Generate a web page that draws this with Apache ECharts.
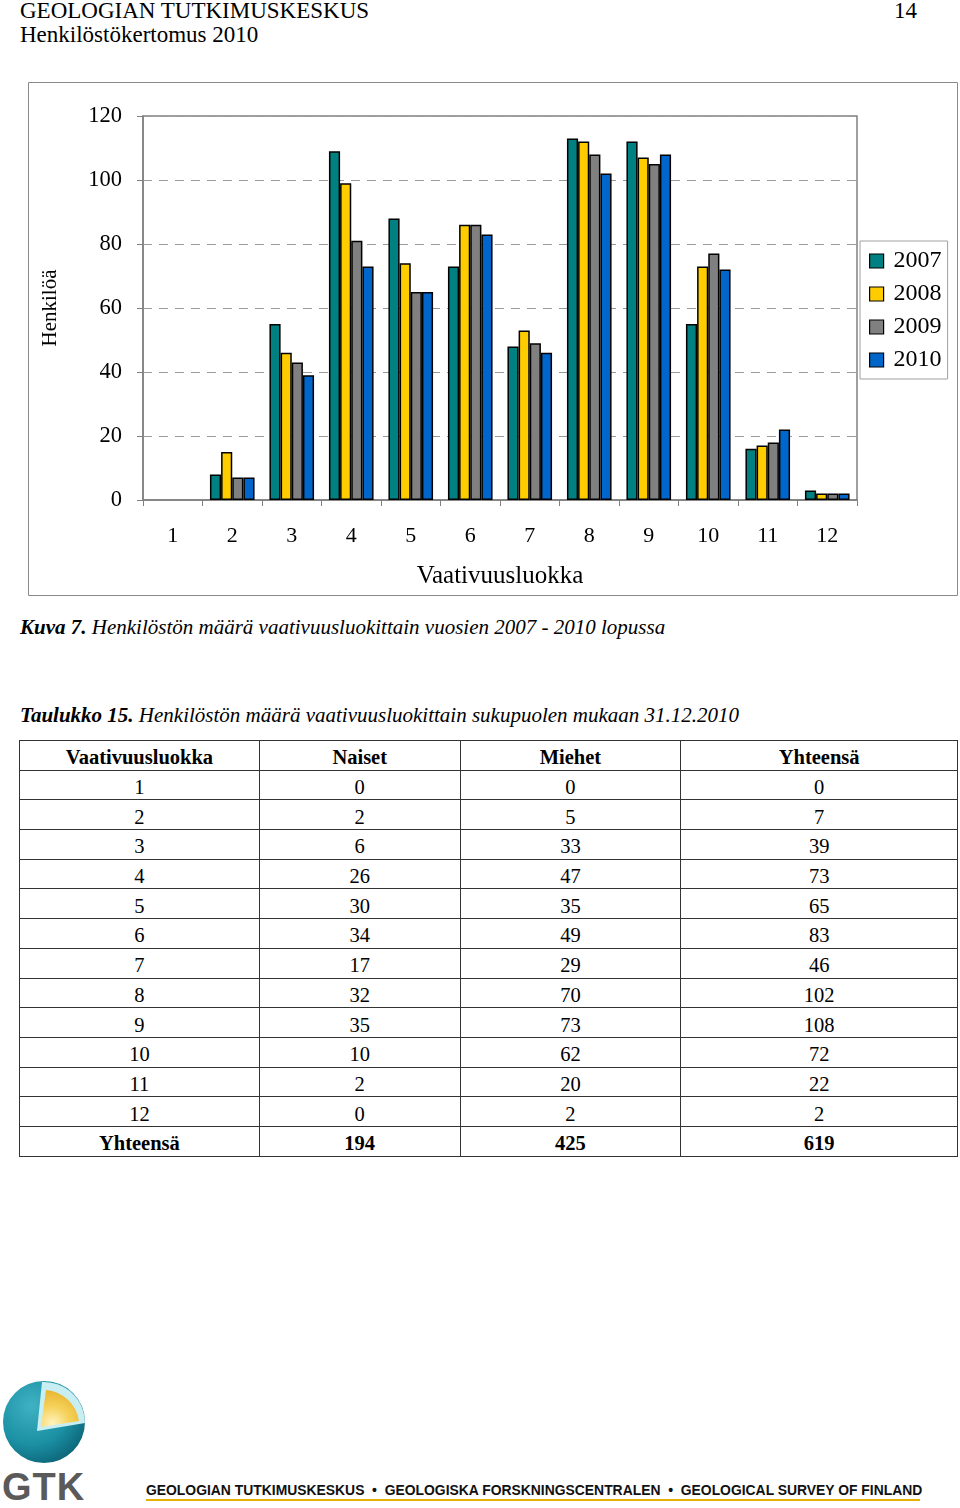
<!DOCTYPE html>
<html>
<head>
<meta charset="utf-8">
<script src="https://cdn.jsdelivr.net/npm/echarts@6/dist/echarts.min.js"></script>
<style>
  html, body { margin: 0; padding: 0; background: #fff; }
  #page { position: relative; width: 960px; height: 1508px; overflow: hidden; font-family: "Liberation Serif", serif; color: #000; }
  .abs { position: absolute; white-space: nowrap; }
  #chart { position: absolute; left: 0; top: 0; width: 960px; height: 610px; }
  table { position: absolute; left: 19px; top: 740px; width: 939px; border-collapse: collapse; font-family: "Liberation Serif", serif; font-size: 20.5px; }
  td, th { border: 1px solid #333; height: 29.7px; padding: 4px 0 0 0; box-sizing: border-box; text-align: center; line-height: 20px; }
  th { font-weight: bold; }
  tr.tot td { font-weight: bold; }
  table { border: 1.5px solid #222; }
</style>
</head>
<body>
<div id="page">
  <div class="abs" style="left:20px; top:-2px; font-size:23px;">GEOLOGIAN TUTKIMUSKESKUS</div>
  <div class="abs" style="left:894px; top:-2px; font-size:23px;">14</div>
  <div class="abs" style="left:20px; top:22px; font-size:23px;">Henkilöstökertomus 2010</div>
  <div id="chart"></div>
  <div class="abs" style="left:20px; top:615px; font-size:21px; font-style:italic;"><b>Kuva 7.</b> Henkilöstön määrä vaativuusluokittain vuosien 2007 - 2010 lopussa</div>
  <div class="abs" style="left:20px; top:703px; font-size:21px; font-style:italic;"><b>Taulukko 15.</b> Henkilöstön määrä vaativuusluokittain sukupuolen mukaan 31.12.2010</div>
  <table id="tbl"></table>
  <svg class="abs" style="left:0; top:1376px;" width="100" height="95" viewBox="0 0 100 95">
    <defs>
      <radialGradient id="gg" cx="0.35" cy="0.3" r="0.8">
        <stop offset="0" stop-color="#3fb3c3"/>
        <stop offset="0.6" stop-color="#1b8fa3"/>
        <stop offset="1" stop-color="#0b5f72"/>
      </radialGradient>
      <radialGradient id="yg" cx="0.3" cy="0.9" r="0.9">
        <stop offset="0" stop-color="#fff4c0"/>
        <stop offset="0.5" stop-color="#f6d25a"/>
        <stop offset="1" stop-color="#e9b531"/>
      </radialGradient>
    </defs>
    <circle cx="44" cy="46" r="41" fill="url(#gg)"/>
    <path d="M42 6 L37 55 L85 47 A41 41 0 0 0 42 6 Z" fill="#c9eef2"/>
    <path d="M46 14 L41 51 L79 45 A36 36 0 0 0 46 14 Z" fill="url(#yg)"/>
  </svg>
  <div class="abs" style="left:2px; top:1466px; font-family:'Liberation Sans',sans-serif; font-weight:bold; font-size:38px; color:#5a5a5a; letter-spacing:1px;">GTK</div>
  <div class="abs" id="foot" style="left:146px; top:1482px; font-family:'Liberation Sans',sans-serif; font-weight:bold; font-size:13.9px; color:#111;">GEOLOGIAN TUTKIMUSKESKUS &nbsp;•&nbsp; GEOLOGISKA FORSKNINGSCENTRALEN &nbsp;•&nbsp; GEOLOGICAL SURVEY OF FINLAND</div>
  <div class="abs" style="left:146px; top:1499px; width:774px; height:2px; background:#e8b000;"></div>
</div>
<script>
// ---- chart data ----
const categories = ['1','2','3','4','5','6','7','8','9','10','11','12'];
const years = ['2007','2008','2009','2010'];
const values2007 = [0, 8, 55, 109, 88, 73, 48, 113, 112, 55, 16, 3];
const values2008 = [0, 15, 46, 99, 74, 86, 53, 112, 107, 73, 17, 2];
const values2009 = [0, 7, 43, 81, 65, 86, 49, 108, 105, 77, 18, 2];
const values2010 = [0, 7, 39, 73, 65, 83, 46, 102, 108, 72, 22, 2];
const yTicks = [0, 20, 40, 60, 80, 100, 120];

// ---- table data ----
const tableHeader = ['Vaativuusluokka', 'Naiset', 'Miehet', 'Yhteensä'];
const tableClasses = ['1','2','3','4','5','6','7','8','9','10','11','12'];
const naiset = [0, 2, 6, 26, 30, 34, 17, 32, 35, 10, 2, 0];
const miehet = [0, 5, 33, 47, 35, 49, 29, 70, 73, 62, 20, 2];
const yhteensa = [0, 7, 39, 73, 65, 83, 46, 102, 108, 72, 22, 2];
const totalRow = ['Yhteensä', 194, 425, 619];

// build table
(function () {
  const t = document.getElementById('tbl');
  const widths = [240, 201, 221, 277];
  let html = '<tr>' + tableHeader.map((h, i) => '<th style="width:' + widths[i] + 'px">' + h + '</th>').join('') + '</tr>';
  for (let i = 0; i < tableClasses.length; i++) {
    html += '<tr><td>' + tableClasses[i] + '</td><td>' + naiset[i] + '</td><td>' + miehet[i] + '</td><td>' + yhteensa[i] + '</td></tr>';
  }
  html += '<tr class="tot">' + totalRow.map(v => '<td>' + v + '</td>').join('') + '</tr>';
  t.innerHTML = html;
})();

const colors = ['#008080', '#FFCC00', '#808080', '#0066CC'];
const seriesValues = [values2007, values2008, values2009, values2010];
const font = 'Liberation Serif';

const chart = echarts.init(document.getElementById('chart'), null, { renderer: 'canvas' });
chart.setOption({
  animation: false,
  textStyle: { fontFamily: font, color: '#000' },
  graphic: [{
    type: 'rect',
    shape: { x: 28.5, y: 82.5, width: 929, height: 513 },
    style: { fill: 'none', stroke: '#8a8a8a', lineWidth: 1 },
    silent: true
  }],
  grid: {
    left: 143, top: 116, width: 714, height: 384,
    show: true, borderColor: '#808080', borderWidth: 1.5, backgroundColor: 'transparent'
  },
  legend: {
    data: years,
    orient: 'vertical',
    left: 860, top: 241,
    padding: [8, 6, 7, 9],
    itemWidth: 14, itemHeight: 14, itemGap: 9,
    borderColor: '#a0a0a0', borderWidth: 1,
    icon: 'rect',
    itemStyle: { borderColor: '#000', borderWidth: 1.2 },
    textStyle: { fontFamily: font, fontSize: 24, color: '#000', padding: [2, 0, 0, 5] }
  },
  xAxis: {
    type: 'category',
    data: categories,
    name: 'Vaativuusluokka',
    nameLocation: 'middle',
    nameGap: 64,
    nameTextStyle: { fontFamily: font, fontSize: 25, color: '#000' },
    axisLine: { show: true, lineStyle: { color: '#808080', width: 1.5 } },
    axisTick: { show: true, length: 6, lineStyle: { color: '#808080' } },
    axisLabel: { fontFamily: font, fontSize: 22, color: '#000', margin: 25 },
    splitLine: { show: false }
  },
  yAxis: {
    type: 'value',
    min: yTicks[0], max: yTicks[yTicks.length - 1], interval: 20,
    name: 'Henkilöä',
    nameLocation: 'middle',
    nameGap: 82,
    nameRotate: 90,
    nameTextStyle: { fontFamily: font, fontSize: 21, color: '#000' },
    axisLine: { show: true, lineStyle: { color: '#808080', width: 1.5 } },
    axisTick: { show: true, length: 6, lineStyle: { color: '#808080' } },
    axisLabel: { fontFamily: font, fontSize: 22.5, color: '#000', margin: 21 },
    splitLine: { show: true, lineStyle: { color: '#9a9a9a', type: [9, 7], width: 1 } }
  },
  series: years.map((y, i) => ({
    name: y,
    type: 'bar',
    data: seriesValues[i].map(v => ({ value: v, itemStyle: { borderWidth: v === 0 ? 0 : 1.5 } })),
    barGap: '0%',
    barCategoryGap: '25%',
    itemStyle: { color: colors[i], borderColor: '#000', borderWidth: 1.5 }
  }))
});
</script>
</body>
</html>
